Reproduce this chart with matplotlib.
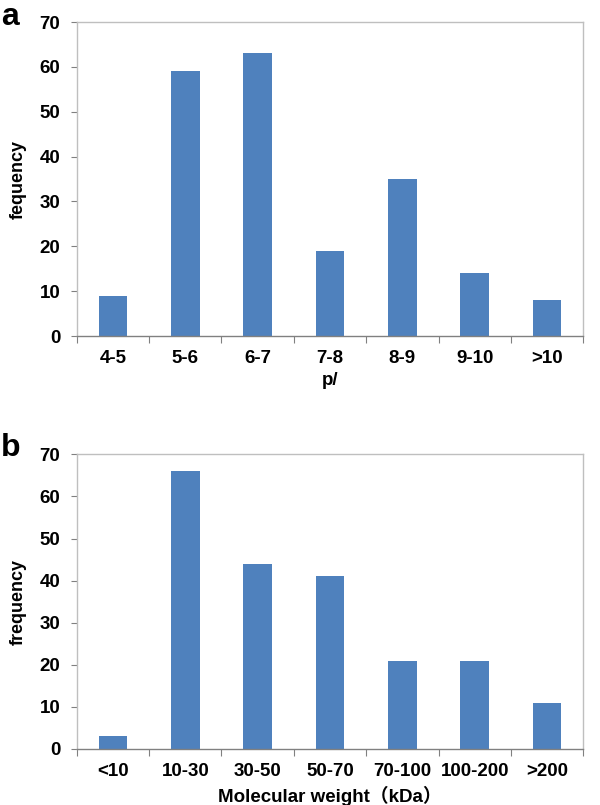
import matplotlib
matplotlib.use("Agg")
import matplotlib.pyplot as plt
import numpy as np

# data
pi_labels = ["4-5", "5-6", "6-7", "7-8", "8-9", "9-10", ">10"]
pi_freq = [9, 59, 63, 19, 35, 14, 8]

mw_labels = ["<10", "10-30", "30-50", "50-70", "70-100", "100-200", ">200"]
mw_freq = [3, 66, 44, 41, 21, 21, 11]

plt.rcParams["font.family"] = ["Liberation Sans", "Noto Sans CJK SC", "DejaVu Sans"]
plt.rcParams["font.weight"] = "bold"

BAR = "#4F81BD"
GRAY = "#BFBFBF"

fig = plt.figure(figsize=(6, 8.05), dpi=100)
ax_a = fig.add_axes([0.128, 0.5826, 0.844, 0.390])
ax_b = fig.add_axes([0.128, 0.0696, 0.844, 0.366])


def draw_panel(ax, labels, values, ylabel, xlabel):
    x = np.arange(len(labels))
    ax.bar(x, values, width=0.4, color=BAR, zorder=2)
    ax.set_xlim(-0.5, len(labels) - 0.5)
    ax.set_ylim(0, 70)
    ax.set_yticks(range(0, 71, 10))
    ax.set_yticklabels([str(v) for v in range(0, 71, 10)], fontsize=13.5, fontweight="bold")
    # category labels in the middle, ticks at the boundaries
    ax.set_xticks(x)
    ax.set_xticklabels(labels, fontsize=13.5, fontweight="bold")
    ax.tick_params(axis="x", which="major", length=0, pad=10)
    ax.set_xticks(np.arange(-0.5, len(labels)), minor=True)
    ax.tick_params(axis="x", which="minor", length=5, color="#808080", width=0.8)
    ax.tick_params(axis="y", length=4, color="#808080", width=0.8, pad=8)
    for s in ax.spines.values():
        s.set_color(GRAY)
        s.set_linewidth(1.0)
    ax.spines["bottom"].set_color("#808080")
    ax.set_ylabel(ylabel, fontsize=13, fontweight="bold", labelpad=9)
    ax.set_xlabel(xlabel, fontsize=13.5, fontweight="bold", labelpad=4)


draw_panel(ax_a, pi_labels, pi_freq, "fequency", "p/")
draw_panel(ax_b, mw_labels, mw_freq, "frequency", "Molecular weight（kDa）")

fig.text(0.002, 0.998, "a", fontsize=23, fontweight="bold", va="top", ha="left")
fig.text(0.002, 0.462, "b", fontsize=23, fontweight="bold", va="top", ha="left")

fig.savefig("out.png", dpi=100, facecolor="white")
